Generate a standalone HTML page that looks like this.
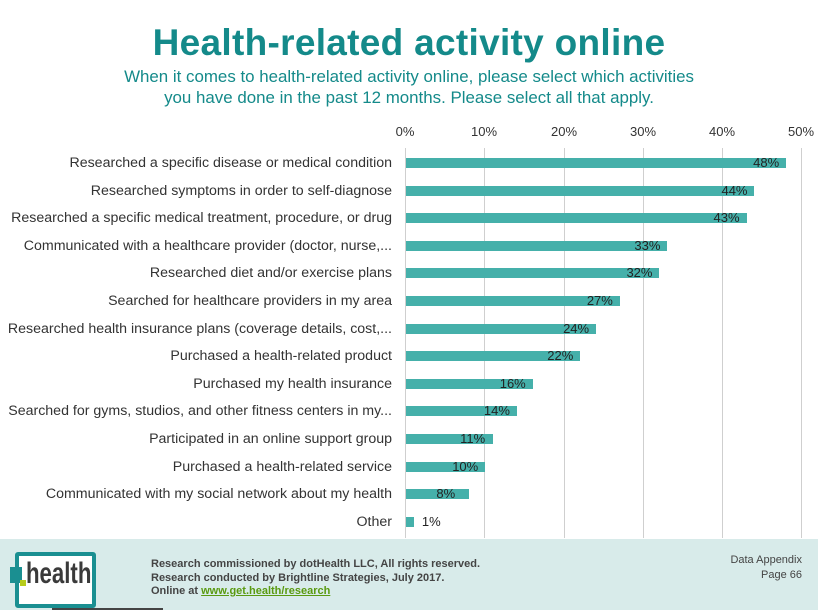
<!DOCTYPE html>
<html><head><meta charset="utf-8"><style>
body{margin:0;width:818px;height:610px;background:#fff;position:relative;overflow:hidden;font-family:"Liberation Sans",sans-serif}
.t{position:absolute;left:0;width:818px;text-align:center;color:#148a8a}
.lab{position:absolute;right:426px;font-size:14.2px;color:#333;white-space:nowrap;text-align:right}
.bar{position:absolute;left:406px;height:10px;background:#45b0aa}
.val{position:absolute;font-size:13px;color:#222}
.g{position:absolute;top:148px;height:390px;width:1px;background:#cfcfcf}
.tk{position:absolute;top:124px;font-size:13px;color:#333;width:40px;text-align:center}
</style></head><body>
<div class="t" style="top:22px;font-size:37px;font-weight:bold;letter-spacing:0.3px">Health-related activity online</div>
<div class="t" style="top:66px;font-size:16.9px;line-height:21px">When it comes to health-related activity online, please select which activities<br>you have done in the past 12 months. Please select all that apply.</div>
<div class="g" style="left:405px"></div><div class="g" style="left:484px"></div><div class="g" style="left:564px"></div><div class="g" style="left:643px"></div><div class="g" style="left:722px"></div><div class="g" style="left:801px"></div>
<div class="tk" style="left:385px">0%</div><div class="tk" style="left:464px">10%</div><div class="tk" style="left:544px">20%</div><div class="tk" style="left:623px">30%</div><div class="tk" style="left:702px">40%</div><div class="tk" style="left:781px">50%</div>
<div id="rows"></div>
<script>
var d=[["Researched a specific disease or medical condition",48],["Researched symptoms in order to self-diagnose",44],["Researched a specific medical treatment, procedure, or drug",43],["Communicated with a healthcare provider (doctor, nurse,...",33],["Researched diet and/or exercise plans",32],["Searched for healthcare providers in my area",27],["Researched health insurance plans (coverage details, cost,...",24],["Purchased a health-related product",22],["Purchased my health insurance",16],["Searched for gyms, studios, and other fitness centers in my...",14],["Participated in an online support group",11],["Purchased a health-related service",10],["Communicated with my social network about my health",8],["Other",1]];
var h="";d.forEach(function(r,i){var y=158+i*27.6;var w=r[1]*7.92;
h+='<div class="lab" style="top:'+(y-3)+'px">'+r[0]+'</div><div class="bar" style="top:'+y+'px;width:'+w+'px"></div><div class="val" style="top:'+(y-3)+'px;left:'+(406+w-(r[1]<5?-8:33))+'px">'+r[1]+'%</div>';});
document.getElementById("rows").innerHTML=h;
</script>
<div style="position:absolute;left:0;top:539px;width:818px;height:71px;background:#d8ebea"></div>
<div style="position:absolute;left:15px;top:552px;width:73px;height:48px;border:4px solid #1a8f91;border-radius:3px;background:#fff"></div>
<div style="position:absolute;left:10px;top:567px;width:12px;height:16px;background:#1a8f91"></div>
<div style="position:absolute;left:20px;top:580px;width:6px;height:6px;background:#b7cc1a"></div>
<div style="position:absolute;left:26px;top:557px;font-size:30px;font-weight:bold;color:#3a3a3a;transform:scaleX(0.74);transform-origin:left">health</div>
<div style="position:absolute;left:151px;top:558px;font-size:11px;line-height:13.5px;color:#444;font-weight:bold">Research commissioned by dotHealth LLC, All rights reserved.<br>Research conducted by Brightline Strategies, July 2017.<br>Online at <span style="color:#5a9a10;text-decoration:underline">www.get.health/research</span></div>
<div style="position:absolute;right:16px;top:553px;font-size:11px;line-height:15px;color:#444;text-align:right">Data Appendix<br>Page 66</div>
<div style="position:absolute;left:52px;top:608px;width:111px;height:2px;background:#444"></div>
</body></html>
